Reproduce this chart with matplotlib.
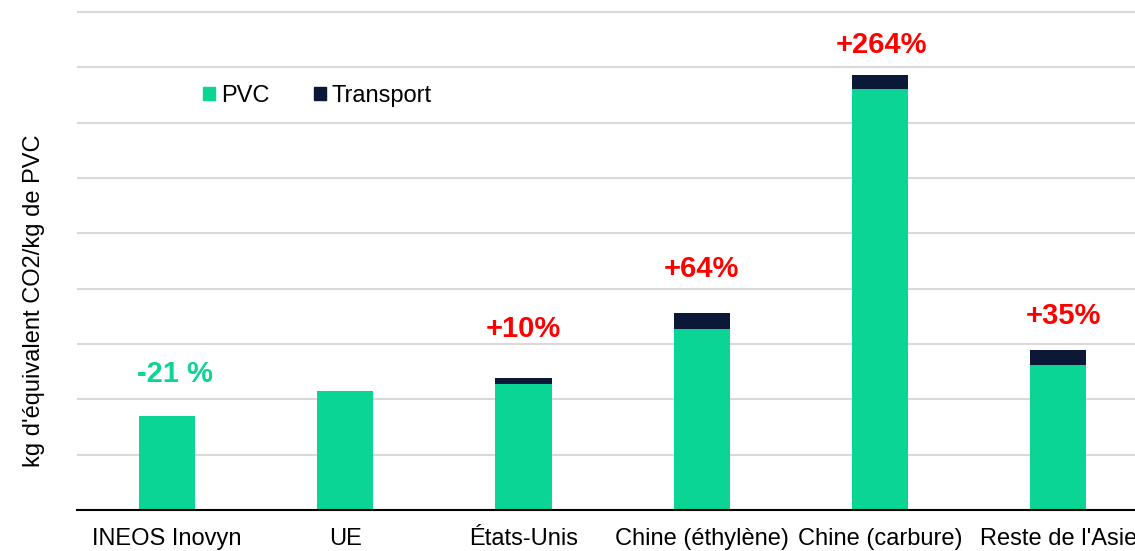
import matplotlib
matplotlib.use("Agg")
import matplotlib.pyplot as plt
from matplotlib.patches import Patch

plt.rcParams['font.family'] = ['Liberation Sans', 'DejaVu Sans']

categories = ["INEOS Inovyn", "UE", "États-Unis", "Chine (éthylène)", "Chine (carbure)", "Reste de l'Asie"]
pvc = [1.70, 2.15, 2.27, 3.27, 7.60, 2.62]
transport = [0.00, 0.00, 0.11, 0.29, 0.27, 0.27]
labels = ["-21 %", "", "+10%", "+64%", "+264%", "+35%"]
label_colors = ["#0AD595", "#FF0000", "#FF0000", "#FF0000", "#FF0000", "#FF0000"]
label_y = [2.45, 0, 3.27, 4.35, 8.40, 3.50]
label_dx = [0.045, 0, 0, 0, 0.01, 0.03]

GREEN = "#0AD595"
NAVY = "#0B1838"

W, H = 1135, 551
fig = plt.figure(figsize=(W / 100, H / 100), dpi=100)
px_per_unit = 498 / 9
ytop = 9.2
ax = fig.add_axes([77 / W, 41 / H, (W - 77) / W, ytop * px_per_unit / H])

x = list(range(len(categories)))
ax.bar(x, pvc, width=0.315, color=GREEN, zorder=3)
ax.bar(x, transport, width=0.315, bottom=pvc, color=NAVY, zorder=3)

for xi, lab, c, ly, dx in zip(x, labels, label_colors, label_y, label_dx):
    if lab:
        ax.text(xi + dx, ly, lab, ha="center", va="center", color=c,
                fontsize=21, fontweight="bold")

ax.set_xlim(-0.505, 5.43)
ax.set_ylim(0, ytop)
ax.set_yticks(range(1, 10))
ax.set_yticklabels([])
ax.tick_params(axis="y", length=0)
ax.grid(axis="y", color="#D9D9D9", linewidth=1.5, zorder=0)
for s in ["top", "right", "left"]:
    ax.spines[s].set_visible(False)
ax.spines["bottom"].set_linewidth(1.5)
ax.spines["bottom"].set_zorder(4)
ax.set_xticks(x)
ax.set_xticklabels(categories, fontsize=17)
ax.tick_params(axis="x", length=0, pad=13)

fig.text(34 / W, 1 - 301 / H, "kg d'équivalent CO2/kg de PVC", fontsize=17,
         rotation=90, ha="center", va="center")

handles = [Patch(color=GREEN, label="PVC"), Patch(color=NAVY, label="Transport")]
ax.legend(handles=handles, ncol=2, frameon=False, fontsize=17,
          handlelength=0.5, handleheight=0.5, handletextpad=0.25,
          columnspacing=1.9, loc="center left",
          bbox_to_anchor=(182 / W, 1 - 96 / H), bbox_transform=fig.transFigure)

fig.savefig("out.png", dpi=100)
